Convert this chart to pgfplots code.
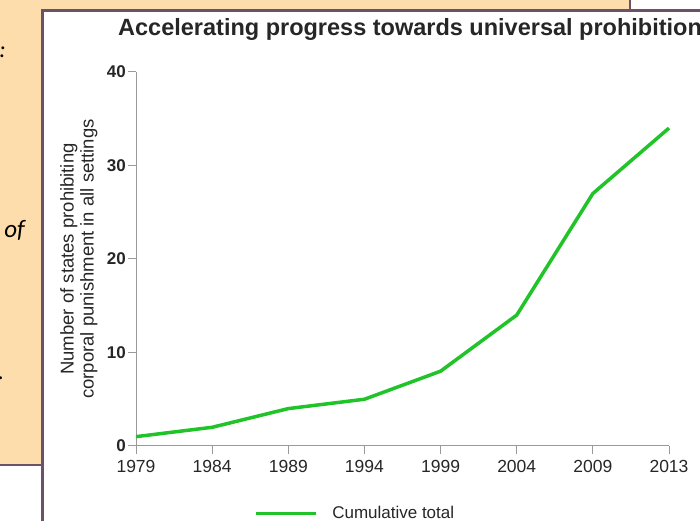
\documentclass[border=0pt]{standalone}
\usepackage{fontspec}
\setmainfont{Liberation Sans}
\newfontfamily\sidefont{Carlito}
\usepackage{pgfplots}
\pgfplotsset{compat=1.18}

\definecolor{panel}{HTML}{FDDDAC}
\definecolor{frame}{HTML}{6C5268}
\definecolor{trend}{HTML}{20C428}
\definecolor{axisgray}{HTML}{9A9A9A}
\definecolor{ink}{HTML}{262626}

\begin{document}
\begin{tikzpicture}[x=1pt,y=1pt]
  \useasboundingbox (0,0) rectangle (700,521);
  \clip (0,0) rectangle (700,521);

  % side panel and page frame
  \fill[panel] (0,56) rectangle (42,521);
  \fill[panel] (42,511) rectangle (630,521);
  \draw[frame, line width=2pt] (0,56) -- (42,56);
  \draw[frame, line width=2pt] (629.5,511) -- (629.5,521);
  \draw[frame, line width=3pt] (42.5,0) -- (42.5,510) -- (700,510);

  % cut-off text of the side panel
  \node[anchor=base east, inner sep=0pt, font=\sidefont\itshape\fontsize{24}{24}\selectfont, text=black] at (6,463) {:};
  \node[anchor=base east, inner sep=0pt, font=\sidefont\itshape\fontsize{25}{25}\selectfont, text=black] at (25,283) {of};
  \node[anchor=base west, inner sep=0pt, font=\sidefont\itshape\fontsize{24}{24}\selectfont, text=black] at (-2,141) {.};

  % title
  \node[anchor=base west, inner sep=0pt, text=ink, font=\bfseries\fontsize{23.5}{23.5}\selectfont] at (118,485)
    {Accelerating progress towards universal prohibition};

  \begin{axis}[
    at={(136pt,75pt)}, anchor=south west,
    scale only axis, width=533pt, height=374pt,
    xmin=0, xmax=7, ymin=0, ymax=40,
    axis x line=bottom, axis y line=left,
    axis line style={-, axisgray, line width=1pt},
    xtick={0,...,7},
    xticklabels={1979,1984,1989,1994,1999,2004,2009,2013},
    ytick={0,10,20,30,40},
    tick align=outside,
    major tick length=8pt,
    tick style={axisgray, line width=1pt},
    x tick label style={font=\fontsize{17.5}{17.5}\selectfont, text=ink, inner sep=0pt, yshift=-6pt},
    y tick label style={font=\bfseries\fontsize{17}{17}\selectfont, text=ink, inner sep=1pt, xshift=-1pt},
    /pgf/number format/assume math mode=true,
    ylabel={Number of states prohibiting\\corporal punishment in all settings},
    ylabel style={align=center, text=ink, font=\fontsize{18.5}{20}\selectfont, at={(rel axis cs:0,0.5)}, anchor=south, yshift=35pt},
    clip=false,
    legend style={draw=none, fill=none, at={(0.215,-0.18)}, anchor=west,
      font=\fontsize{17}{17}\selectfont, text=ink},
    legend image code/.code={\draw[#1] (0pt,0pt) -- (60pt,0pt); \path (73pt,0pt);},
  ]
    \addplot[trend, line width=3.5pt, line join=round] coordinates {
      (0,1) (1,2) (2,4) (3,5) (4,8) (5,14) (6,27) (7,34)
    };
    \addlegendentry{Cumulative total}
  \end{axis}
\end{tikzpicture}
\end{document}
